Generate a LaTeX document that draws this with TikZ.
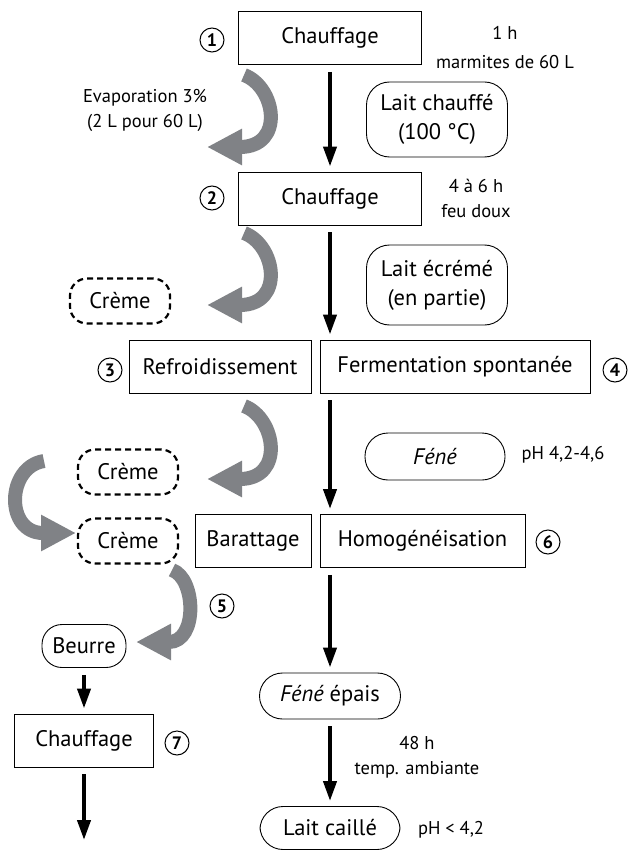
\documentclass[tikz,border=0pt]{standalone}
\usepackage{fontspec}
\setmainfont{PT Sans}
\usetikzlibrary{arrows.meta}

\definecolor{hookgray}{RGB}{128,130,134}
\newcommand{\bigtxt}{\fontsize{22.5}{29}\selectfont}
\newcommand{\smalltxt}{\fontsize{18.5}{25}\selectfont}

\begin{document}
\begin{tikzpicture}[x=1pt, y=-1pt,
  stepbox/.style={draw, line width=0.9pt, minimum height=53pt, inner sep=0pt, font=\bigtxt},
  product/.style={draw, line width=0.9pt, rounded corners=23pt, inner sep=0pt, align=center, font=\bigtxt},
  cream/.style={draw, line width=2.2pt, dash pattern=on 6pt off 4pt, rounded corners=17pt, minimum width=100pt, minimum height=45pt, inner sep=0pt, font=\bigtxt},
  num/.style={draw, circle, line width=1pt, minimum size=24pt, inner sep=0pt, font=\fontsize{18}{18}\selectfont\bfseries},
  note/.style={align=center, font=\smalltxt},
  flow/.style={line width=4pt, -{Triangle[length=20pt, width=13pt]}, shorten <=7pt, shorten >=5pt},
  hook/.style={hookgray, line width=14pt, -{Triangle[length=35pt, width=34pt]}}]

\useasboundingbox (0,0) rectangle (629,850);

% main line
\node[stepbox, minimum width=183pt] (step1) at (330,38) {Chauffage};
\node[stepbox, minimum width=183pt] (step2) at (330,198.5) {Chauffage};
\node[stepbox, minimum width=182pt] (refr) at (220,366.5) {Refroidissement};
\node[stepbox, minimum width=270pt] (ferm) at (455,366.5) {Fermentation spontanée};
\node[stepbox, minimum width=116pt] (barat) at (253,541) {Barattage};
\node[stepbox, minimum width=205pt] (homog) at (422.5,541) {Homogénéisation};
\node[stepbox, minimum width=139pt] (step7) at (84,740.5) {Chauffage};

\node[product, minimum width=141pt, minimum height=75pt] (laitch) at (437,119.5) {Lait chauffé\\(100 °C)};
\node[product, minimum width=141pt, minimum height=80pt] (laitec) at (437,285) {Lait écrémé\\(en partie)};
\node[product, minimum width=140pt, minimum height=47pt] (fene) at (435,456.5) {\textit{Féné}};
\node[product, minimum width=141pt, minimum height=46pt] (fenep) at (330,696) {\textit{Féné} épais};
\node[product, minimum width=140pt, minimum height=43pt] (caille) at (330,828) {Lait caillé};
\node[product, minimum width=84pt, minimum height=43pt, rounded corners=20pt] (beurre) at (84,646) {Beurre};

\node[cream] (creme1) at (120,301) {Crème};
\node[cream] (creme2) at (128,472) {Crème};
\node[cream] (creme3) at (128,541) {Crème};

\node[num] (num1) at (212,40) {1};
\node[num] (num2) at (212,198) {2};
\node[num] (num3) at (110,370) {3};
\node[num] (num4) at (615,370) {4};
\node[num] (num5) at (222,606) {5};
\node[num] (num6) at (548,542) {6};
\node[num] (num7) at (177,743) {7};

\node[note] (dur1) at (505,48) {1 h\\[4pt]marmites de 60 L};
\node[note] (dur2) at (476,198) {4 à 6 h\\feu doux};
\node[note] (evap) at (145,110) {Evaporation 3\%\\(2 L pour 60 L)};
\node[note] (ph1) at (563,455) {pH 4,2-4,6};
\node[note] (dur7) at (417,757) {48 h\\temp. ambiante};
\node[note] (ph2) at (451,830) {pH < 4,2};

\coordinate (flowend) at (84,845);

\draw[flow] (step1.south) -- (step2.north);
\draw[flow] (step2.south) -- (step2.south |- ferm.north);
\draw[flow] (step2.south |- ferm.south) -- (step2.south |- homog.north);
\draw[flow] (step2.south |- homog.south) -- (fenep.north);
\draw[flow] (fenep.south) -- (caille.north);
\draw[flow] (beurre.south) -- (step7.north);
\draw[flow] (step7.south) -- (flowend);

% grey side arrows
\coordinate (evapA) at (244,75);
\coordinate (evapB) at (207,147);
\coordinate (cremA) at (244,233);
\coordinate (cremB) at (207,305);
\coordinate (refrA) at (244,406);
\coordinate (refrB) at (207,479);
\coordinate (leftA) at (44,461);
\coordinate (leftB) at (76,533);
\coordinate (baratA) at (172,570);
\coordinate (baratB) at (136,642);

\draw[hook] (evapA) .. controls +(32,12) and +(78,0) .. (evapB);
\draw[hook] (cremA) .. controls +(32,12) and +(78,0) .. (cremB);
\draw[hook] (refrA) .. controls +(32,12) and +(78,0) .. (refrB);
\draw[hook] (leftA) .. controls +(-38,6) and +(-71,0) .. (leftB);
\draw[hook] (baratA) .. controls +(24,8) and +(62,0) .. (baratB);

\end{tikzpicture}
\end{document}
